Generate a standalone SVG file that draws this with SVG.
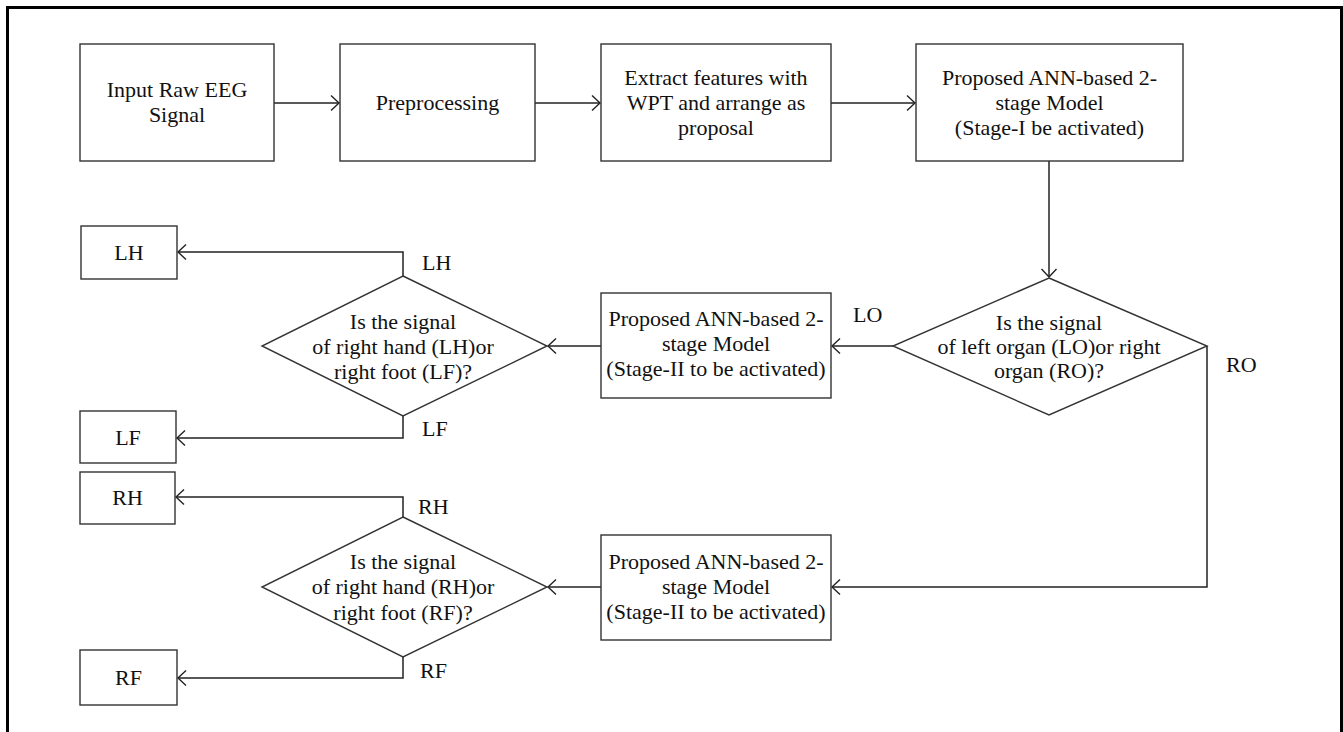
<svg xmlns="http://www.w3.org/2000/svg" width="1343" height="732" viewBox="0 0 1343 732">
<defs>
<style>
.box{fill:#fff;stroke:#333;stroke-width:1.4}
.t{font-family:"Liberation Serif","Times New Roman",serif;font-size:22px;fill:#111;text-anchor:middle}
.lbl{font-family:"Liberation Serif","Times New Roman",serif;font-size:22px;fill:#111}
.c{fill:none;stroke:#222;stroke-width:1.5}
</style>
<marker id="ah" markerUnits="userSpaceOnUse" markerWidth="20" markerHeight="20" viewBox="-10 -10 20 20" refX="0" refY="0" orient="auto">
<path d="M-8,-7.5 L0,0 L-8,7.5" fill="none" stroke="#222" stroke-width="1.4"/>
</marker>
</defs>
<rect x="0" y="0" width="1343" height="732" fill="#fff"/>
<rect x="7.5" y="7.5" width="1334" height="800" fill="none" stroke="#000" stroke-width="3"/>

<g id="connectors">
<path class="c" d="M274,103 H339" marker-end="url(#ah)"/>
<path class="c" d="M535,103 H600" marker-end="url(#ah)"/>
<path class="c" d="M831,103 H915" marker-end="url(#ah)"/>
<path class="c" d="M1049,161 V277" marker-end="url(#ah)"/>
<path class="c" d="M893,346 H832" marker-end="url(#ah)"/>
<path class="c" d="M1207,346 V587 H832" marker-end="url(#ah)"/>
<path class="c" d="M601,346 H548" marker-end="url(#ah)"/>
<path class="c" d="M601,587 H548" marker-end="url(#ah)"/>
<path class="c" d="M403,276 V252 H178" marker-end="url(#ah)"/>
<path class="c" d="M403,416 V438 H177" marker-end="url(#ah)"/>
<path class="c" d="M403,517 V497 H176" marker-end="url(#ah)"/>
<path class="c" d="M403,657 V678 H178" marker-end="url(#ah)"/>
<text class="lbl" x="853" y="322">LO</text>
<text class="lbl" x="1226" y="372">RO</text>
<text class="lbl" x="422" y="270">LH</text>
<text class="lbl" x="422" y="436">LF</text>
<text class="lbl" x="418" y="514">RH</text>
<text class="lbl" x="420" y="678">RF</text>
</g>

<g id="input">
<rect class="box" x="80" y="44" width="194" height="117"/>
<text class="t" x="177" y="97">Input Raw EEG</text>
<text class="t" x="177" y="122">Signal</text>
</g>
<g id="preprocessing">
<rect class="box" x="340" y="44" width="195" height="117"/>
<text class="t" x="437.5" y="110">Preprocessing</text>
</g>
<g id="extract">
<rect class="box" x="601" y="44" width="230" height="117"/>
<text class="t" x="716" y="85">Extract features with</text>
<text class="t" x="716" y="110">WPT and arrange as</text>
<text class="t" x="716" y="135">proposal</text>
</g>
<g id="stage1">
<rect class="box" x="916" y="44" width="267" height="117"/>
<text class="t" x="1049.5" y="85">Proposed ANN-based 2-</text>
<text class="t" x="1049.5" y="110">stage Model</text>
<text class="t" x="1049.5" y="135">(Stage-I be activated)</text>
</g>
<g id="decision-organ">
<polygon class="box" points="1049,278 1207,346 1049,415 893,346"/>
<text class="t" x="1049" y="330">Is the signal</text>
<text class="t" x="1049" y="354">of left organ (LO)or right</text>
<text class="t" x="1049" y="378">organ (RO)?</text>
</g>
<g id="stage2-left">
<rect class="box" x="601" y="293" width="230" height="105"/>
<text class="t" x="716" y="326">Proposed ANN-based 2-</text>
<text class="t" x="716" y="351">stage Model</text>
<text class="t" x="716" y="376">(Stage-II to be activated)</text>
</g>
<g id="stage2-right">
<rect class="box" x="601" y="535" width="230" height="105"/>
<text class="t" x="716" y="569">Proposed ANN-based 2-</text>
<text class="t" x="716" y="594">stage Model</text>
<text class="t" x="716" y="619">(Stage-II to be activated)</text>
</g>
<g id="decision-left">
<polygon class="box" points="403,276 547,346 403,416 262,346"/>
<text class="t" x="403" y="329">Is the signal</text>
<text class="t" x="403" y="354">of right hand (LH)or</text>
<text class="t" x="403" y="379">right foot (LF)?</text>
</g>
<g id="decision-right">
<polygon class="box" points="403,517 547,587 403,657 262,587"/>
<text class="t" x="403" y="569">Is the signal</text>
<text class="t" x="403" y="594">of right hand (RH)or</text>
<text class="t" x="403" y="620">right foot (RF)?</text>
</g>
<g id="out-lh">
<rect class="box" x="81" y="226" width="96" height="53"/>
<text class="t" x="129" y="260">LH</text>
</g>
<g id="out-lf">
<rect class="box" x="80" y="411" width="96" height="52"/>
<text class="t" x="128" y="445">LF</text>
</g>
<g id="out-rh">
<rect class="box" x="80" y="472" width="95" height="52"/>
<text class="t" x="127.5" y="505">RH</text>
</g>
<g id="out-rf">
<rect class="box" x="80" y="650" width="97" height="55"/>
<text class="t" x="128.5" y="685">RF</text>
</g>
</svg>
